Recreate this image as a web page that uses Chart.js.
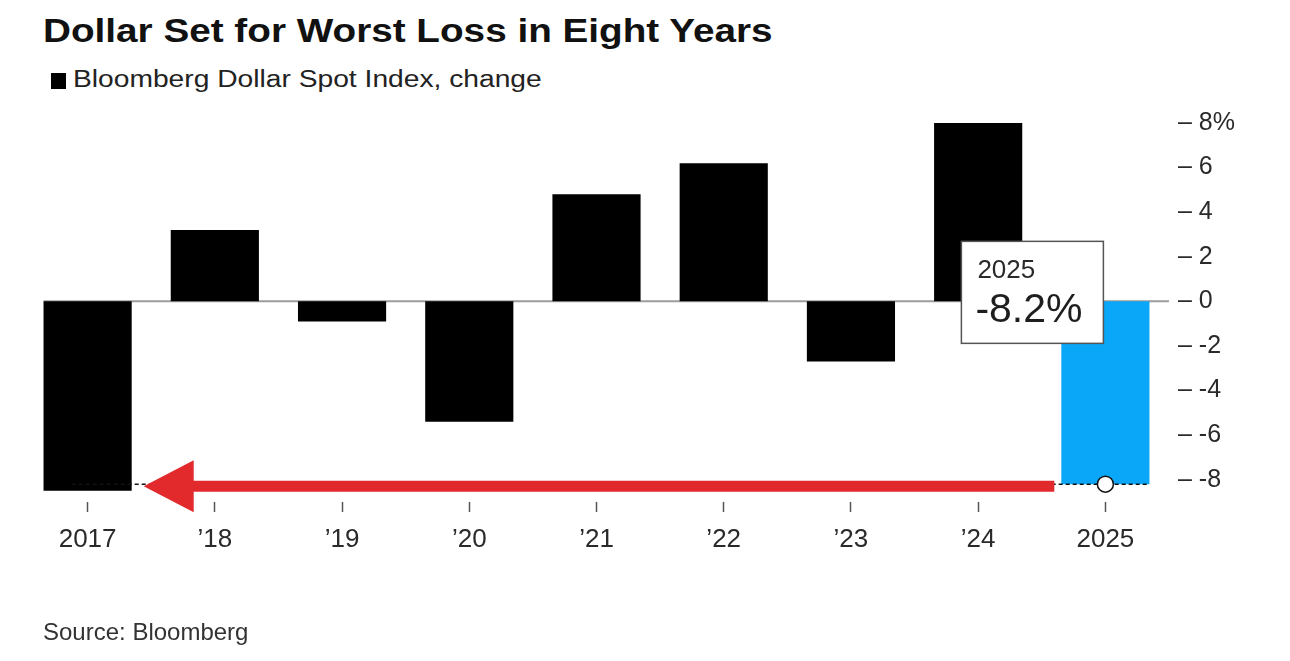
<!DOCTYPE html>
<html>
<head>
<meta charset="utf-8">
<script src="https://cdn.jsdelivr.net/npm/chart.js@4.4.1/dist/chart.umd.min.js"></script>
<style>
html,body{margin:0;padding:0;background:#fff;}
#wrap{position:relative;width:1290px;height:661px;overflow:hidden;font-family:"Liberation Sans",Arial,Helvetica,sans-serif;}
#title{position:absolute;left:43px;top:10px;font-size:34px;line-height:40px;font-weight:bold;color:#111;white-space:nowrap;transform:scaleX(1.138);transform-origin:left top;}
#legend{position:absolute;left:51px;top:65px;height:28px;white-space:nowrap;}
#legend .sw{position:absolute;left:0;top:8px;width:15px;height:16px;background:#000;}
#legend .lt{position:absolute;left:22px;top:0;font-size:23.5px;line-height:28px;color:#222;transform:scaleX(1.2);transform-origin:left top;}
#source{position:absolute;left:43px;top:618px;font-size:24px;line-height:28px;color:#333;white-space:nowrap;}
canvas{position:absolute;left:0;top:0;}
</style>
</head>
<body>
<div id="wrap">
  <div id="title">Dollar Set for Worst Loss in Eight Years</div>
  <div id="legend"><span class="sw"></span><span class="lt">Bloomberg Dollar Spot Index, change</span></div>
  <canvas id="c" width="1290" height="661"></canvas>
  <div id="source">Source: Bloomberg</div>
</div>
<script>
// ---- data ----
const categories = ['2017', '\u201918', '\u201919', '\u201920', '\u201921', '\u201922', '\u201923', '\u201924', '2025'];
const changes = [-8.5, 3.2, -0.9, -5.4, 4.8, 6.2, -2.7, 8.0, -8.2];
const yTickValues = [8, 6, 4, 2, 0, -2, -4, -6, -8];
const highlightLabel = '2025';
const highlightValueText = '-8.2%';

const FONT = '"Liberation Sans", Arial, Helvetica, sans-serif';
const barColors = changes.map((v, i) => i === changes.length - 1 ? '#0aa6f7' : '#000000');

const overlay = {
  id: 'overlay',
  beforeDatasetsDraw(chart) {
    const ctx = chart.ctx, ca = chart.chartArea;
    const ys = chart.scales.y;
    const meta = chart.getDatasetMeta(0);
    const first = meta.data[0];
    const y0 = ys.getPixelForValue(0);
    ctx.save();
    ctx.strokeStyle = '#9c9c9c';
    ctx.lineWidth = 2;
    ctx.beginPath();
    ctx.moveTo(first.x - first.width / 2, y0);
    ctx.lineTo(ca.right, y0);
    ctx.stroke();
    ctx.restore();
  },
  afterDatasetsDraw(chart) {
    const ctx = chart.ctx;
    const ys = chart.scales.y;
    const meta = chart.getDatasetMeta(0);
    const n = meta.data.length;
    const first = meta.data[0], last = meta.data[n - 1];
    const lastVal = changes[n - 1];
    const yL = ys.getPixelForValue(lastVal);
    ctx.save();
    // dashed reference line
    ctx.strokeStyle = '#111';
    ctx.lineWidth = 1.5;
    ctx.setLineDash([4, 3]);
    ctx.beginPath();
    ctx.moveTo(first.x + first.width / 2 - 60, yL);
    ctx.lineTo(last.x + last.width / 2, yL);
    ctx.stroke();
    ctx.setLineDash([]);
    // red arrow
    const yA = yL + 2;
    const tipX = first.x + first.width / 2 + 12;
    const baseX = tipX + 50;
    const endX = last.x - last.width / 2 - 7;
    ctx.fillStyle = '#e22a2c';
    ctx.beginPath();
    ctx.moveTo(endX, yA - 5.5);
    ctx.lineTo(baseX, yA - 5.5);
    ctx.lineTo(baseX, yA - 26);
    ctx.lineTo(tipX, yA);
    ctx.lineTo(baseX, yA + 26);
    ctx.lineTo(baseX, yA + 5.5);
    ctx.lineTo(endX, yA + 5.5);
    ctx.closePath();
    ctx.fill();
    // marker circle
    ctx.beginPath();
    ctx.arc(last.x, yL, 8, 0, Math.PI * 2);
    ctx.fillStyle = '#fff';
    ctx.fill();
    ctx.strokeStyle = '#111';
    ctx.lineWidth = 1.5;
    ctx.stroke();
    // annotation box
    const y0 = ys.getPixelForValue(0);
    const bx = last.x - 144, by = y0 - 60, bw = 142, bh = 102;
    ctx.fillStyle = '#fff';
    ctx.fillRect(bx, by, bw, bh);
    ctx.strokeStyle = '#555';
    ctx.lineWidth = 1.5;
    ctx.strokeRect(bx, by, bw, bh);
    ctx.fillStyle = '#2a2a2a';
    ctx.textBaseline = 'alphabetic';
    ctx.textAlign = 'left';
    ctx.font = '26px ' + FONT;
    ctx.fillText(highlightLabel, bx + 16, by + 37);
    ctx.fillStyle = '#1e1e1e';
    ctx.font = '41px ' + FONT;
    ctx.fillText(highlightValueText, bx + 14, by + 81);
    ctx.restore();
  }
};

new Chart(document.getElementById('c'), {
  type: 'bar',
  data: {
    labels: categories,
    datasets: [{
      label: 'Bloomberg Dollar Spot Index, change',
      data: changes,
      backgroundColor: barColors,
      borderWidth: 0,
      categoryPercentage: 1.0,
      barPercentage: 0.693
    }]
  },
  options: {
    responsive: false,
    animation: false,
    devicePixelRatio: 1,
    layout: { padding: { left: 24, right: 0, top: 123, bottom: 99 } },
    plugins: { legend: { display: false }, tooltip: { enabled: false }, title: { display: false } },
    scales: {
      x: {
        offset: true,
        border: { display: false },
        grid: { display: true, drawOnChartArea: false, drawTicks: true, tickLength: 10, tickColor: '#555', tickWidth: 1.5, offset: false },
        ticks: { color: '#2a2a2a', font: { family: FONT, size: 26 }, padding: 12, maxRotation: 0, autoSkip: false },
        afterFit(s) { s.height = 60; }
      },
      y: {
        position: 'right',
        min: -9,
        max: 8,
        border: { display: false },
        grid: { display: false, drawTicks: false },
        afterBuildTicks(s) { s.ticks = yTickValues.map(v => ({ value: v })); },
        ticks: {
          color: '#2a2a2a',
          font: { family: FONT, size: 25 },
          padding: 9,
          callback: (v) => '\u2013 ' + (v === 8 ? '8%' : String(v))
        },
        afterFit(s) { s.width = 121; }
      }
    }
  },
  plugins: [overlay]
});
</script>
</body>
</html>
